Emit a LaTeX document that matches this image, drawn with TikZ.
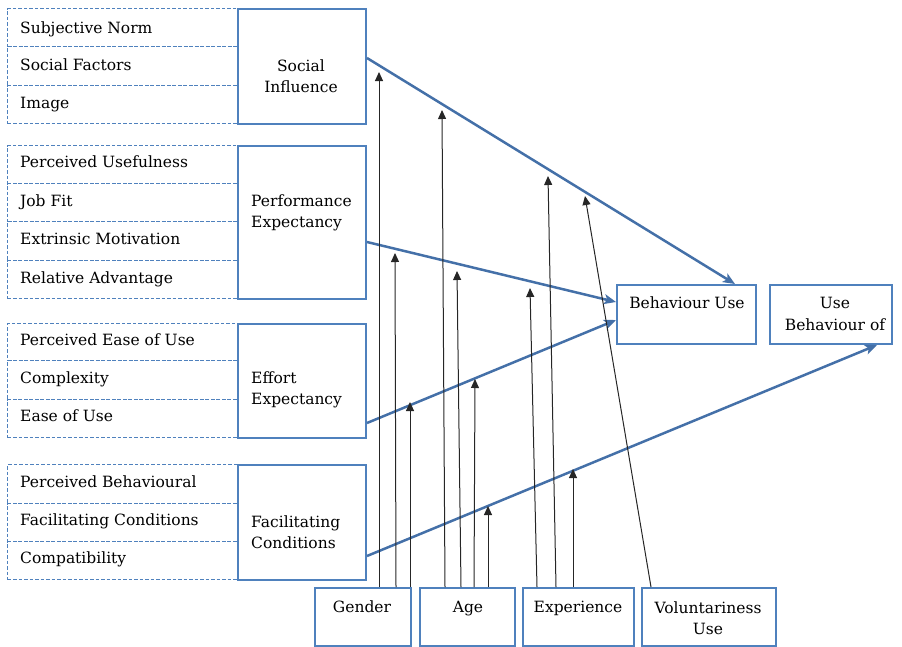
\documentclass[tikz,border=0pt]{standalone}
\usepackage{fontspec}
\setmainfont{DejaVu Serif}
\usetikzlibrary{arrows.meta,positioning,calc}
\definecolor{boxblue}{RGB}{79,129,189}
\definecolor{arrblue}{RGB}{68,112,168}
\tikzset{
  dashrow/.style={draw=boxblue,line width=1.2pt,dash pattern=on 3.5pt off 2pt,rectangle,inner sep=0pt,minimum width=230pt,minimum height=#1,anchor=north west},
  cbox/.style={draw=boxblue,line width=2pt,rectangle,inner sep=0pt,anchor=north west},
  lab/.style={inner sep=0pt,anchor=base west,font=\rmfamily\fontsize{15.5}{21.5}\selectfont},
  clab/.style={inner sep=0pt,font=\rmfamily\fontsize{15.5}{21.5}\selectfont},
  barrow/.style={draw=arrblue,line width=2.5pt,-{Stealth[length=12pt,width=10pt,inset=3pt]}},
  karrow/.style={draw=black!85,line width=1pt,-{Triangle[length=9pt,width=8pt]}}
}
\begin{document}
\begin{tikzpicture}[x=1pt,y=-1pt]
\useasboundingbox (0,0) rectangle (902,646);
% ---- dashed rows
\node[dashrow=38pt] (r1) at (7,8) {};
\node[dashrow=39pt] (r2) at (7,46) {};
\node[dashrow=38pt] (r3) at (7,85) {};
\node[dashrow=38pt] (r4) at (7,145) {};
\node[dashrow=38pt] (r5) at (7,183) {};
\node[dashrow=39pt] (r6) at (7,221) {};
\node[dashrow=38pt] (r7) at (7,260) {};
\node[dashrow=37pt] (r8) at (7,323) {};
\node[dashrow=39pt] (r9) at (7,360) {};
\node[dashrow=38pt] (r10) at (7,399) {};
\node[dashrow=39pt] (r11) at (7,464) {};
\node[dashrow=38pt] (r12) at (7,503) {};
\node[dashrow=38pt] (r13) at (7,541) {};
\node[lab] (t1) at (20,33) {Subjective Norm};
\node[lab] (t2) at (20,70) {Social Factors};
\node[lab] (t3) at (20,108) {Image};
\node[lab] (t4) at (20,167) {Perceived Usefulness};
\node[lab] (t5) at (20,206) {Job Fit};
\node[lab] (t6) at (20,244) {Extrinsic Motivation};
\node[lab] (t7) at (20,283) {Relative Advantage};
\node[lab] (t8) at (20,345) {Perceived Ease of Use};
\node[lab] (t9) at (20,383) {Complexity};
\node[lab] (t10) at (20,421) {Ease of Use};
\node[lab] (t11) at (20,487) {Perceived Behavioural};
\node[lab] (t12) at (20,525) {Facilitating Conditions};
\node[lab] (t13) at (20,563) {Compatibility};
% ---- construct boxes
\node[cbox,minimum width=128pt,minimum height=115pt] (si) at (237,8) {};
\node[cbox,minimum width=128pt,minimum height=153pt] (pe) at (237,145) {};
\node[cbox,minimum width=128pt,minimum height=114pt] (ee) at (237,323) {};
\node[cbox,minimum width=128pt,minimum height=115pt] (fc) at (237,464) {};
\node[clab,align=center] (sit) at (301,76) {Social\\Influence};
\node[clab,align=left,anchor=west] (pet) at (251,213) {Performance\\Expectancy};
\node[clab,align=left,anchor=west] (eet) at (251,390) {Effort\\Expectancy};
\node[clab,align=left,anchor=west] (fct) at (251,532) {Facilitating\\Conditions};
% ---- outcome boxes
\node[cbox,minimum width=139pt,minimum height=59pt] (bu) at (616,284) {};
\node[cbox,minimum width=122pt,minimum height=59pt] (ub) at (769,284) {};
\node[clab,anchor=base] (but) at (687,308) {Behaviour Use};
\node[clab,align=center] (ubt) at (835,314) {Use\\Behaviour of};
% ---- moderator boxes
\node[cbox,minimum width=96pt,minimum height=58pt] (g) at (314,587) {};
\node[cbox,minimum width=95pt,minimum height=58pt] (a) at (419,587) {};
\node[cbox,minimum width=111pt,minimum height=58pt] (e) at (522,587) {};
\node[cbox,minimum width=134pt,minimum height=58pt] (v) at (641,587) {};
\node[clab,anchor=base] (gt) at (362,612) {Gender};
\node[clab,anchor=base] (at) at (468,612) {Age};
\node[clab,anchor=base] (et) at (578,612) {Experience};
\node[clab,align=center] (vt) at (708,618) {Voluntariness\\Use};
% ---- blue arrows
\draw[barrow] (si.east |- 0,58) -- (bu.north -| 735,0);
\draw[barrow] (pe.east |- 0,242) -- (bu.west |- 0,302);
\draw[barrow] (ee.east |- 0,423) -- (bu.west |- 0,320);
\draw[barrow] (fc.east |- 0,556) -- (ub.south -| 877,0);
% ---- tip coordinates
\coordinate (g1) at (379,72);
\coordinate (g2) at (395,253);
\coordinate (g3) at (410,402);
\coordinate (a1) at (442,110);
\coordinate (a2) at (457,271);
\coordinate (a3) at (475,379);
\coordinate (a4) at (488,506);
\coordinate (e1) at (530,288);
\coordinate (e2) at (548,176);
\coordinate (e3) at (573,469);
\coordinate (v1) at (585,196);
% ---- black arrows
\draw[karrow] (g.north -| 379,0) -- (g1);
\draw[karrow] (g.north -| 396,0) -- (g2);
\draw[karrow] (g.north -| 410,0) -- (g3);
\draw[karrow] (a.north -| 445,0) -- (a1);
\draw[karrow] (a.north -| 461,0) -- (a2);
\draw[karrow] (a.north -| 474,0) -- (a3);
\draw[karrow] (a.north -| 488,0) -- (a4);
\draw[karrow] (e.north -| 537,0) -- (e1);
\draw[karrow] (e.north -| 556,0) -- (e2);
\draw[karrow] (e.north -| 573,0) -- (e3);
\draw[karrow] (v.north -| 651,0) -- (v1);
\end{tikzpicture}
\end{document}
